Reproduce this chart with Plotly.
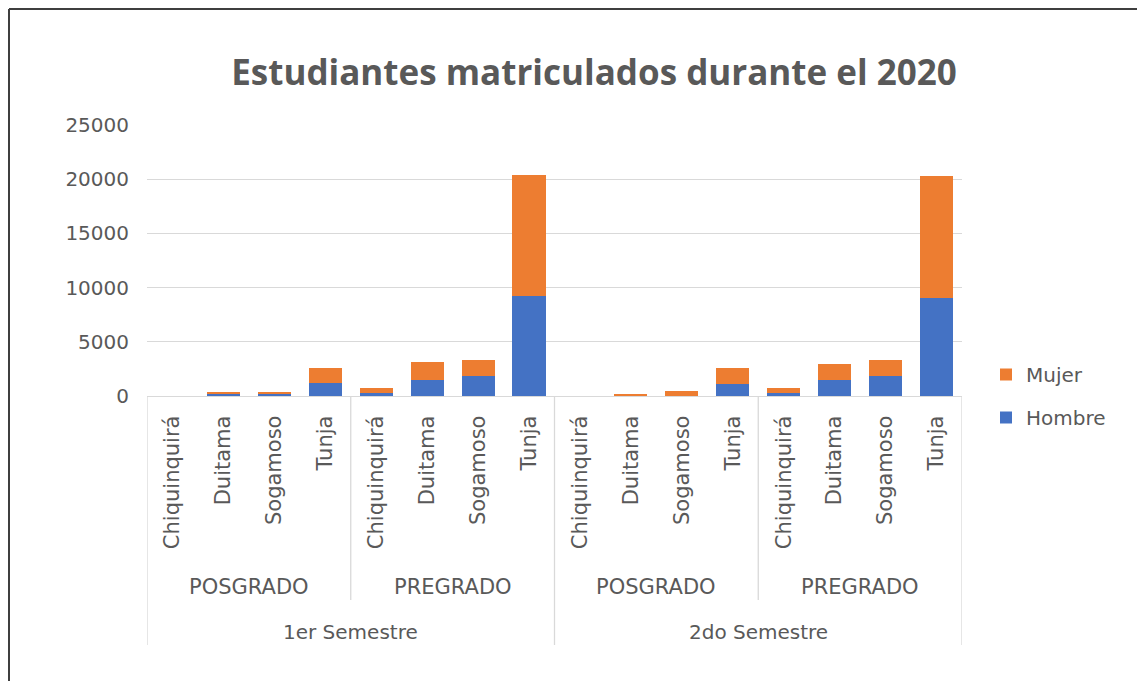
import plotly.graph_objects as go

# ---- data ----
cities = ["Chiquinquirá", "Duitama", "Sogamoso", "Tunja"]
levels = ["POSGRADO", "PREGRADO"]
semesters = ["1er Semestre", "2do Semestre"]

hombre = [0, 250, 250, 1170, 280, 1500, 1850, 9200,
          0, 40, 40, 1140, 280, 1500, 1850, 9020]
mujer = [0, 160, 160, 1390, 490, 1600, 1450, 11200,
         0, 190, 390, 1420, 490, 1420, 1440, 11260]

# ---- derived category positions ----
labels = [c for s in semesters for l in levels for c in cities]
xpos = list(range(len(labels)))

FONT = "DejaVu Sans"
TFONT = "Open Sans"
GRAY = "#595959"
LINE = "#d9d9d9"

fig = go.Figure()
fig.add_trace(go.Bar(x=xpos, y=hombre, name="Hombre", marker_color="#4472c4",
                     legendgroup="h", legendrank=2, marker_line_width=0))
fig.add_trace(go.Bar(x=xpos, y=mujer, name="Mujer", marker_color="#ed7d31",
                     legendgroup="m", legendrank=1, marker_line_width=0))

OFF = 8  # page body margin
W, H = 1145 - OFF, 681 - OFF


def X(x):
    return x - OFF


# plot area in reference pixels: x 147..962, y 125..396
L, R, T, B = X(147), W - X(962), X(125), H - X(396)
pw, ph = W - L - R, H - T - B


def py(y):
    return (X(396) - X(y)) / ph


def px(x):
    return (X(x) - L) / pw


shapes = []
n_c = len(cities)
n_l = len(levels)
for i in range(len(labels) + 1):
    if i % (n_c * n_l) == 0:
        y1 = py(645)
    elif i % n_c == 0:
        y1 = py(600)
    else:
        continue
    shapes.append(dict(type="line", xref="x", yref="paper", x0=i - 0.5, x1=i - 0.5,
                       y0=0, y1=y1, line=dict(color=LINE, width=1.3)))
# outer frame
shapes.append(dict(type="line", xref="paper", yref="paper", x0=px(9), x1=px(9),
                   y0=py(9), y1=py(700), line=dict(color="#3f3f3f", width=2)))
shapes.append(dict(type="line", xref="paper", yref="paper", x0=px(9), x1=px(1160),
                   y0=py(9), y1=py(9), line=dict(color="#3f3f3f", width=2)))

annotations = []
for si, s in enumerate(semesters):
    for li, l in enumerate(levels):
        c = si * n_c * n_l + li * n_c + (n_c - 1) / 2
        annotations.append(dict(x=c, y=py(587), xref="x", yref="paper", text=l,
                                showarrow=False, yanchor="middle",
                                font=dict(family=FONT, size=21, color=GRAY)))
    c = si * n_c * n_l + (n_c * n_l - 1) / 2
    annotations.append(dict(x=c, y=py(632), xref="x", yref="paper", text=s,
                            showarrow=False, yanchor="middle",
                            font=dict(family=FONT, size=20, color=GRAY)))

fig.update_layout(
    width=W, height=H,
    margin=dict(l=L, r=R, t=T, b=B, autoexpand=False),
    paper_bgcolor="white", plot_bgcolor="white",
    barmode="stack", bargap=0.35,
    title=dict(text="<b>Estudiantes matriculados durante el 2020</b>",
               x=X(594) / W, xanchor="center", y=1 - X(73) / H, yanchor="middle",
               font=dict(family=TFONT, size=35, color=GRAY)),
    font=dict(family=FONT, size=18, color=GRAY),
    showlegend=True,
    legend=dict(x=px(986), xanchor="left", y=py(396), yanchor="middle",
                traceorder="grouped", tracegroupgap=14,
                font=dict(family=FONT, size=20, color=GRAY),
                bgcolor="rgba(0,0,0,0)"),
    shapes=shapes,
    annotations=annotations,
)
fig.update_xaxes(range=[-0.5, len(labels) - 0.5], tickmode="array", tickvals=xpos,
                 ticktext=labels, tickangle=-90, showgrid=False, showline=True,
                 linecolor=LINE, linewidth=1.3, ticks="", ticklabelstandoff=10,
                 tickfont=dict(family=FONT, size=21, color=GRAY), zeroline=False)
fig.update_yaxes(range=[0, 25000], dtick=5000, showgrid=True, gridcolor=LINE,
                 gridwidth=1.3, zeroline=False, showline=False, ticks="",
                 ticklabelstandoff=17, tickformat="d",
                 tickfont=dict(family=FONT, size=20, color=GRAY))

fig.write_html("out.html")
